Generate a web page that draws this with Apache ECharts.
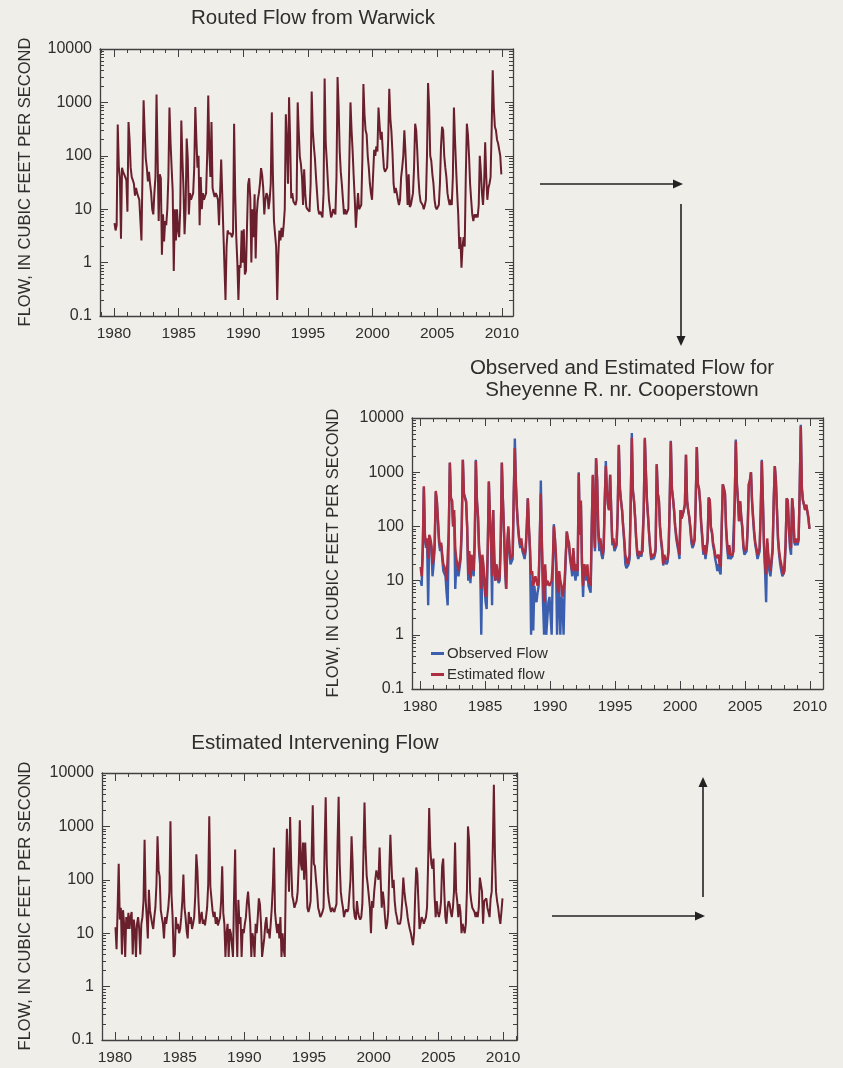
<!DOCTYPE html>
<html>
<head>
<meta charset="utf-8">
<script src="https://cdn.jsdelivr.net/npm/echarts@6/dist/echarts.min.js"></script>
<style>
html,body{margin:0;padding:0;background:#efeee8;}
#chart{width:843px;height:1068px;}
</style>
</head>
<body>
<div id="chart"></div>
<script>
// ---- DATA (monthly flow, cubic feet per second, Jan 1980 - Dec 2009) ----
const START_YEAR = 1980;
const yearTickLabels = [1980, 1985, 1990, 1995, 2000, 2005, 2010];
const flowTickLabels = [0.1, 1, 10, 100, 1000, 10000];

const routedFlow = [
  5.5,4,5,385,63,40,2.8,60,50,45,40,35,          // 1980
  9,430,200,60,40,35,30,18,25,20,20,15,          // 1981
  15,2.6,50,1100,280,90,60,33,50,30,20,10,       // 1982
  8,20,40,1400,100,6,45,38,1.4,8,2.5,6,          // 1983
  5,10,40,800,180,60,22,0.7,10,2.6,10,4,         // 1984
  3,10,460,90,25,3.4,10,210,90,8,20,15,          // 1985
  15,20,60,820,200,60,100,5,40,10,20,15,         // 1986
  15,20,100,1350,120,40,430,25,20,17,20,18,      // 1987
  15,5,20,85,19,4,4,0.2,2,4,3.5,3.5,             // 1988
  3.5,3,3.5,400,20,3,1,0.2,0.9,0.8,4,1,          // 1989
  4.2,0.6,0.7,5,29,38,16,1,10,3,19,1.2,          // 1990
  8,15,20,30,59,44,25,8,15,20,18,10,             // 1991
  15,30,650,45,6,3.4,2,0.2,1.3,4,2.6,4.5,        // 1992
  3,5,10,600,180,30,1250,200,16,20,14,15,        // 1993
  12,15,1000,280,95,70,40,12,56,20,11,10,        // 1994
  10,9,30,1600,300,150,90,40,20,10,8,9,          // 1995
  8,7,20,2800,180,80,33,15,10,7,8,10,            // 1996
  10,8,40,3000,800,120,50,29,15,8,10,8,          // 1997
  8,10,100,1000,300,120,40,15,4.5,10,20,10,      // 1998
  10,12,80,2200,600,300,250,100,60,30,20,15,     // 1999
  16,130,100,150,120,800,380,200,280,120,60,50,  // 2000
  50,60,200,1800,500,280,110,30,20,25,20,15,     // 2001
  12,15,40,60,100,300,120,40,12,45,11,12,        // 2002
  12,20,60,400,300,120,40,20,14,15,12,10,        // 2003
  12,15,100,2300,800,100,80,45,30,15,11,10,      // 2004
  10,12,30,150,350,300,100,60,40,20,15,12,       // 2005
  15,12,40,800,200,60,20,8,1.8,3,0.8,2,          // 2006
  3,2,40,400,250,100,30,15,8,6,8,7,              // 2007
  8,7,12,100,50,20,12,30,180,40,15,25,           // 2008
  30,40,300,4000,800,350,300,200,170,170,100,45  // 2009
];

const observedFlow = [
  10,8,35,520,60,40,50,3.5,60,50,40,12,          // 1980
  20,40,420,300,280,50,35,45,25,15,15,12,        // 1981
  6,3.5,70,1500,330,300,100,150,7,20,15,12,      // 1982
  12,25,90,1700,400,380,300,90,10,30,9,25,       // 1983
  15,12,50,1700,300,150,35,20,1,25,15,8,         // 1984
  4,3,35,650,150,50,3.5,200,25,10,15,12,         // 1985
  9,10,50,1500,300,80,15,7,40,90,35,20,          // 1986
  20,25,350,4200,600,200,90,55,40,50,35,30,      // 1987
  25,35,90,330,90,35,1,10,1.2,8,5,4,             // 1988
  6,8,50,700,40,4,1,15,1,1,4,5,                  // 1989
  5,1,15,110,60,20,1,5,10,1,5,4,                 // 1990
  1,8,25,80,50,40,25,18,12,35,15,10,             // 1991
  15,12,1000,70,250,20,5,20,15,10,15,8,          // 1992
  8,6,90,850,90,35,1800,700,70,35,50,30,         // 1993
  25,35,280,1600,450,250,200,900,190,45,50,35,   // 1994
  35,45,180,3100,500,300,200,100,50,20,17,18,    // 1995
  20,25,280,5300,450,300,150,60,30,25,30,28,     // 1996
  28,30,180,4000,1000,290,150,70,35,24,28,25,    // 1997
  28,35,1400,400,300,100,50,35,19,28,22,20,      // 1998
  22,35,280,3800,500,330,200,100,60,45,35,25,    // 1999
  200,140,150,200,250,2100,300,200,150,90,50,40, // 2000
  45,55,280,2900,600,500,280,110,60,30,40,25,    // 2001
  35,55,340,300,90,75,45,35,25,20,15,20,         // 2002
  15,13,90,600,500,400,90,40,25,40,25,25,        // 2003
  28,30,280,4000,600,300,125,290,150,90,40,30,   // 2004
  30,35,90,600,700,1000,280,130,70,45,35,25,     // 2005
  25,35,180,1700,300,45,15,4,50,25,15,12,        // 2006
  12,35,280,1300,700,200,55,30,20,15,12,13,      // 2007
  15,45,330,280,90,40,30,330,200,50,45,55,       // 2008
  45,55,480,7500,500,300,250,200,250,250,140,90  // 2009
];

const estimatedFlow = [
  18,12,40,550,70,45,60,25,70,60,45,20,          // 1980
  25,50,450,300,290,60,40,50,30,20,18,15,        // 1981
  10,10,80,1500,330,300,100,200,40,25,20,15,     // 1982
  15,30,100,1700,400,330,280,100,13,35,11,30,    // 1983
  20,15,60,1600,300,150,40,25,7,30,20,10,        // 1984
  5,8,40,680,150,60,12,200,30,10,20,15,          // 1985
  10,12,60,1500,300,80,20,7,50,100,40,25,        // 1986
  25,30,400,2800,600,200,100,60,45,60,40,35,     // 1987
  30,40,100,330,100,40,13,15,8,10,12,10,         // 1988
  8,10,60,400,50,10,4,20,8,10,10,8,              // 1989
  8,10,20,100,60,30,10,6,15,10,8,5,              // 1990
  5,10,30,80,60,50,30,20,15,40,20,15,            // 1991
  20,15,950,70,300,20,8,20,20,12,20,10,          // 1992
  10,8,100,900,100,40,1800,700,100,50,60,40,     // 1993
  30,40,300,1300,450,250,200,900,190,50,60,40,   // 1994
  40,50,200,3200,500,300,200,100,60,30,25,20,    // 1995
  25,30,300,4300,450,300,150,60,35,28,35,30,     // 1996
  30,35,200,4300,1000,290,150,70,40,26,30,28,    // 1997
  30,40,1400,400,300,100,60,40,20,30,25,23,      // 1998
  25,40,300,3700,500,330,200,100,70,50,40,30,    // 1999
  200,140,150,200,250,2100,300,200,150,100,60,45,// 2000
  50,60,300,2900,600,500,300,120,70,35,45,30,    // 2001
  40,60,340,300,100,80,50,40,30,26,25,30,        // 2002
  20,18,100,600,500,400,100,50,30,45,30,30,      // 2003
  30,35,300,3700,600,300,125,290,150,100,45,35,  // 2004
  35,40,100,600,700,1000,300,150,80,50,40,30,    // 2005
  30,40,200,1600,300,50,20,13,60,30,20,15,       // 2006
  15,40,300,1300,700,200,60,35,25,20,15,13,      // 2007
  20,50,330,300,100,50,40,330,200,60,50,60,      // 2008
  50,60,500,7000,500,300,250,200,250,250,150,90  // 2009
];

const interveningFlow = [
  13,5,30,200,18,30,4,27,15,3.6,20,12,           // 1980
  24,12,20,25,4,18,12,3.6,15,20,12,4,            // 1981
  15,20,40,560,42,20,8,65,27,20,15,12,           // 1982
  20,30,80,650,150,115,27,20,15,8,20,15,         // 1983
  15,30,60,1250,50,20,3.6,4,20,12,15,10,         // 1984
  12,20,40,125,30,20,11,8,25,15,20,12,           // 1985
  15,20,50,300,150,40,15,20,25,15,18,14,         // 1986
  20,30,80,1550,75,70,27,20,25,15,20,14,         // 1987
  15,20,40,180,24,15,3.6,10,15,3.6,12,10,        // 1988
  10,3.6,50,370,15,3.6,42,15,20,3.6,12,10,       // 1989
  15,20,40,60,65,15,3.6,10,8,3.6,15,10,          // 1990
  20,45,35,15,3.6,3.6,8,15,20,10,12,8,           // 1991
  15,30,80,400,25,15,10,15,8,20,3.6,10,          // 1992
  5,3.6,100,900,200,60,1500,200,50,40,30,35,     // 1993
  40,60,200,1300,200,150,500,100,500,150,30,25,  // 1994
  30,40,300,2500,200,180,100,60,30,25,20,22,     // 1995
  25,30,400,3500,200,60,40,30,25,30,28,25,       // 1996
  30,35,500,3600,200,60,40,30,20,25,28,25,       // 1997
  28,30,100,650,200,30,20,18,40,25,20,18,        // 1998
  20,35,300,2800,400,120,80,50,30,10,40,30,      // 1999
  60,100,150,120,100,400,100,30,60,40,20,12,     // 2000
  15,25,150,700,200,70,100,40,25,20,15,15,       // 2001
  15,20,40,110,60,40,30,20,15,12,10,10,          // 2002
  6,10,50,170,130,40,12,15,20,18,15,15,          // 2003
  20,30,200,2200,400,200,160,250,50,20,40,25,    // 2004
  20,25,40,180,250,60,20,15,30,40,35,25,         // 2005
  20,30,60,500,60,40,20,35,25,10,15,12,          // 2006
  10,15,60,1000,550,60,40,30,28,25,20,25,        // 2007
  20,30,110,110,60,15,40,40,45,30,25,20,         // 2008
  45,60,400,6000,300,60,40,30,20,15,25,45        // 2009
];

// ---- helpers ----
function toPairs(arr) { return arr.map((v, i) => [START_YEAR + (i + 0.5) / 12, v]); }

const FONT = '"Liberation Sans", Arial, sans-serif';
const INK = '#2e2e2e';
const AXIS = '#404040';

const grids = [
  {left: 100, top: 49, width: 413, height: 267},
  {left: 412, top: 418, width: 411, height: 271},
  {left: 102, top: 773, width: 415, height: 267}
];
const xRanges = [[1978.92, 2010.86], [1979.38, 2011.0], [1979.0, 2011.08]];

const minorLog = [];
[0.1, 1, 10, 100, 1000].forEach(d => { for (let k = 2; k <= 9; k++) minorLog.push(+(d * k).toPrecision(3)); });

const xAxes = [], yAxes = [];
grids.forEach((g, gi) => {
  const [mn, mx] = xRanges[gi];
  const years = [];
  for (let y = Math.ceil(mn); y <= Math.floor(mx); y++) years.push(y);
  const base = {gridIndex: gi, type: 'value', min: mn, max: mx, splitLine: {show: false}};
  ['bottom', 'top'].forEach(pos => {
    xAxes.push(Object.assign({}, base, {
      position: pos,
      axisLine: {show: true, onZero: false, lineStyle: {color: AXIS, width: 1.3}},
      axisTick: {show: true, inside: true, length: 4, customValues: years, lineStyle: {color: AXIS}},
      axisLabel: pos === 'bottom'
        ? {show: true, customValues: yearTickLabels, fontSize: 15.5, color: INK, fontFamily: FONT, margin: 10, formatter: v => String(Math.round(v))}
        : {show: false}
    }));
    xAxes.push(Object.assign({}, base, {
      position: pos,
      axisLine: {show: false, onZero: false},
      axisTick: {show: true, inside: true, length: 8, customValues: yearTickLabels, lineStyle: {color: AXIS}},
      axisLabel: {show: false}
    }));
  });
  const ybase = {gridIndex: gi, type: 'log', logBase: 10, min: 0.1, max: 10000, splitLine: {show: false}};
  ['left', 'right'].forEach(pos => {
    yAxes.push(Object.assign({}, ybase, {
      position: pos,
      axisLine: {show: true, onZero: false, lineStyle: {color: AXIS, width: 1.3}},
      axisTick: {show: true, inside: true, length: 8, customValues: flowTickLabels, lineStyle: {color: AXIS}},
      axisLabel: pos === 'left'
        ? {show: true, fontSize: 16, color: INK, fontFamily: FONT, margin: 8, formatter: v => String(v)}
        : {show: false}
    }));
    yAxes.push(Object.assign({}, ybase, {
      position: pos,
      axisLine: {show: false, onZero: false},
      axisTick: {show: true, inside: true, length: 4, customValues: minorLog, lineStyle: {color: AXIS}},
      axisLabel: {show: false}
    }));
  });
});

function lineSeries(name, data, gi, color, width) {
  return {
    name: name, type: 'line', xAxisIndex: gi * 4, yAxisIndex: gi * 4,
    data: toPairs(data), showSymbol: false, symbol: 'none', silent: true,
    lineStyle: {color: color, width: width}, itemStyle: {color: color}
  };
}

function arrow(x1, y1, x2, y2) {
  const dx = x2 - x1, dy = y2 - y1, L = Math.sqrt(dx * dx + dy * dy);
  const ux = dx / L, uy = dy / L, hl = 10, hw = 4.5;
  const bx = x2 - ux * hl, by = y2 - uy * hl;
  return [
    {type: 'line', shape: {x1: x1, y1: y1, x2: bx, y2: by}, style: {stroke: '#222', lineWidth: 1.6}},
    {type: 'polygon', shape: {points: [[x2, y2], [bx - uy * hw, by + ux * hw], [bx + uy * hw, by - ux * hw]]}, style: {fill: '#222'}}
  ];
}

function yName(x, y) {
  return {type: 'text', x: x, y: y, rotation: Math.PI / 2,
    style: {text: 'FLOW, IN CUBIC FEET PER SECOND', fill: INK, font: '16.5px ' + FONT, align: 'center', verticalAlign: 'middle'}};
}

const chart = echarts.init(document.getElementById('chart'), null, {renderer: 'canvas'});
chart.setOption({
  backgroundColor: '#efeee8',
  animation: false,
  textStyle: {fontFamily: FONT},
  title: [
    {text: 'Routed Flow from Warwick', left: 308, top: 3, textAlign: 'center',
     textStyle: {fontSize: 20.5, fontWeight: 'normal', color: INK, fontFamily: FONT}},
    {text: 'Observed and Estimated Flow for\nSheyenne R. nr. Cooperstown', left: 617, top: 352, textAlign: 'center',
     textStyle: {fontSize: 20.5, fontWeight: 'normal', color: INK, fontFamily: FONT, lineHeight: 22}},
    {text: 'Estimated Intervening Flow', left: 310, top: 728, textAlign: 'center',
     textStyle: {fontSize: 20.5, fontWeight: 'normal', color: INK, fontFamily: FONT}}
  ],
  legend: {
    data: ['Observed Flow', 'Estimated flow'], orient: 'vertical', left: 426, top: 641,
    icon: 'rect', itemWidth: 13, itemHeight: 3, itemGap: 6,
    textStyle: {fontSize: 15, color: INK, fontFamily: FONT, padding: [0, 0, 0, -2]}
  },
  grid: grids,
  xAxis: xAxes,
  yAxis: yAxes,
  series: [
    lineSeries('Routed Flow', routedFlow, 0, '#6a1f2d', 2),
    lineSeries('Observed Flow', observedFlow, 1, '#3b5fae', 2.4),
    lineSeries('Estimated flow', estimatedFlow, 1, '#ad2e40', 2.4),
    lineSeries('Intervening Flow', interveningFlow, 2, '#6a1f2d', 2)
  ],
  graphic: [].concat(
    arrow(540, 184, 683, 184),
    arrow(681, 204, 681, 346),
    arrow(552, 916, 705, 916),
    arrow(703, 897, 703, 777),
    [yName(25, 182), yName(333, 553), yName(25, 906)]
  )
});
</script>
</body>
</html>
